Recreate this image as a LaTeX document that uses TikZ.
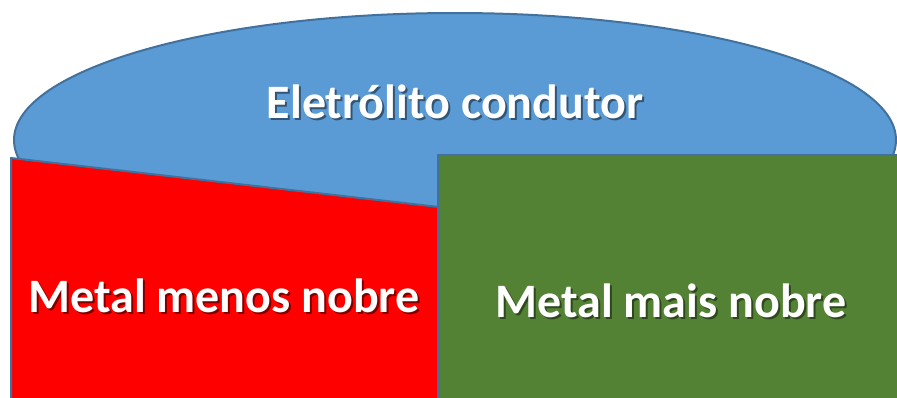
\documentclass[tikz,border=0pt]{standalone}
\usepackage{fontspec}
\setmainfont{Carlito}
\usetikzlibrary{shapes.geometric}
\definecolor{elecblue}{HTML}{5B9BD5}
\definecolor{edgeblue}{HTML}{41719C}
\definecolor{metalgreen}{HTML}{548235}
% text with a soft drop shadow behind it
\newcommand{\shadowtext}[2]{\makebox[0pt][l]{\hspace{2pt}\raisebox{-2pt}{\textcolor{#1}{#2}}}#2}
\begin{document}
\begin{tikzpicture}[
  x=1pt, y=-1pt,
  part/.style={draw=edgeblue, line width=2pt, line join=round},
  label/.style={text=white, font=\fontsize{48}{52}\selectfont\bfseries, inner sep=0pt}
  ]
  \useasboundingbox (0,0) rectangle (897,397);
  \clip (0,0) rectangle (897,397);
  % electrolyte
  \node [part, fill=elecblue, ellipse, minimum width=882pt, minimum height=254pt,
         inner sep=0pt] (elec) at (455,140) {};
  % the two metals
  \draw [part, fill=red] (11,158) -- (439,207) -- (439,410) -- (11,410) -- cycle;
  \draw [part, fill=metalgreen] (438,155) rectangle (910,410);
  % texts
  \node [label] (electxt) at (455,103) {\shadowtext{elecblue!55!black}{Eletrólito condutor}};
  \node [label] (lesstxt) at (224,297) {\shadowtext{red!50!black}{Metal menos nobre}};
  \node [label] (moretxt) at (671,302) {\shadowtext{metalgreen!55!black}{Metal mais nobre}};
\end{tikzpicture}
\end{document}
